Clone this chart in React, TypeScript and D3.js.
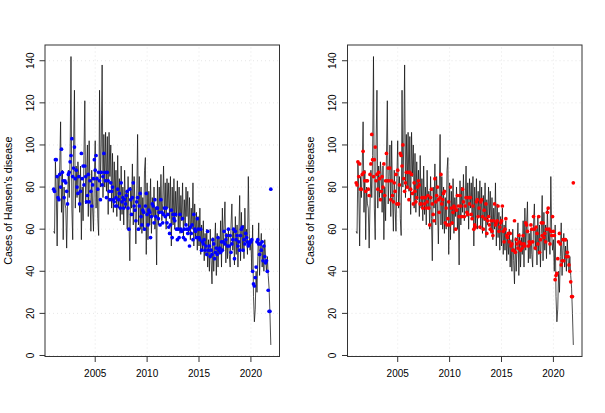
import * as d3 from 'd3';

// Monthly observed cases, Jan 2001 .. Dec 2021 (one row per year)
const observed: number[] = [
  59, 58, 92, 78, 52, 85, 75, 90, 111, 68, 88, 55,
  80, 72, 70, 51, 72, 88, 75, 95, 142, 70, 55, 100,
  126, 70, 90, 75, 92, 85, 68, 90, 55, 80, 64, 95,
  121, 72, 85, 100, 66, 102, 75, 59, 88, 70, 59, 84,
  102, 70, 85, 65, 57, 126, 80, 100, 138, 75, 105, 80,
  106, 78, 104, 67, 106, 85, 100, 70, 96, 68, 92, 74,
  88, 66, 95, 70, 84, 64, 90, 67, 80, 62, 88, 70,
  78, 60, 85, 65, 45, 80, 70, 91, 62, 85, 70, 53,
  75, 105, 62, 85, 60, 80, 58, 75, 60, 88, 94, 48,
  82, 55, 78, 62, 84, 58, 75, 66, 80, 60, 70, 43,
  83, 62, 80, 68, 86, 64, 72, 90, 66, 82, 60, 84,
  70, 82, 65, 85, 52, 80, 62, 84, 60, 78, 66, 83,
  60, 80, 58, 76, 64, 82, 56, 74, 62, 80, 66, 78,
  58, 75, 55, 70, 60, 82, 52, 72, 56, 68, 50, 66,
  52, 70, 48, 62, 50, 64, 45, 58, 48, 60, 42, 55,
  40, 60, 45, 34, 56, 40, 52, 63, 38, 58, 42, 56,
  48, 64, 42, 70, 50, 62, 73, 44, 58, 46, 60, 48,
  42, 62, 72, 50, 60, 43, 66, 48, 62, 42, 58, 76,
  45, 68, 50, 62, 46, 70, 54, 60, 48, 85, 58, 50,
  55, 40, 62, 28, 16, 22, 40, 30, 47, 63, 38, 50,
  58, 42, 52, 40, 55, 46, 40, 47, 38, 32, 20, 5,
];

// Fitted values, left panel (blue)
const fittedBlue: number[] = [
  79, 78, 93, 93, 85, 75, 74, 86, 80, 98, 87, 83,
  75, 83, 82, 78, 72, 86, 87, 92, 95, 103, 85, 89,
  99, 84, 88, 80, 77, 85, 72, 78, 96, 84, 90, 81,
  90, 85, 73, 76, 86, 73, 83, 78, 71, 81, 84, 93,
  88, 95, 84, 79, 87, 83, 74, 87, 81, 85, 96, 87,
  83, 75, 87, 83, 78, 74, 82, 78, 80, 74, 73, 71,
  75, 71, 79, 74, 77, 70, 82, 73, 75, 70, 74, 72,
  76, 78, 70, 60, 79, 74, 67, 75, 82, 71, 69, 64,
  73, 75, 60, 71, 77, 66, 62, 69, 68, 60, 71, 77,
  67, 62, 69, 68, 56, 66, 72, 71, 63, 74, 66, 70,
  70, 65, 68, 62, 74, 68, 63, 67, 70, 66, 70, 63,
  67, 61, 58, 62, 69, 56, 67, 65, 64, 67, 60, 55,
  60, 56, 67, 60, 59, 65, 56, 60, 55, 62, 60, 58,
  60, 52, 61, 58, 62, 55, 67, 60, 59, 56, 65, 60,
  56, 55, 60, 50, 54, 53, 55, 50, 52, 48, 59, 50,
  52, 47, 50, 48, 55, 53, 46, 49, 51, 48, 56, 50,
  51, 49, 54, 50, 54, 59, 53, 55, 57, 52, 60, 52,
  57, 49, 53, 55, 60, 46, 59, 55, 57, 52, 54, 50,
  57, 60, 61, 50, 55, 53, 58, 56, 54, 52, 53, 54,
  54, 55, 40, 34, 33, 37, 42, 54, 55, 53, 48, 53,
  50, 54, 45, 52, 47, 44, 45, 40, 31, 21, 21, 79,
];

// Fitted values, right panel (red)
const fittedRed: number[] = [
  82, 81, 92, 85, 91, 79, 79, 86, 97, 87, 83, 78,
  83, 83, 79, 76, 86, 91, 105, 93, 85, 93, 99, 83,
  86, 79, 87, 84, 74, 78, 85, 80, 91, 76, 83, 96,
  83, 89, 83, 89, 74, 83, 76, 73, 82, 78, 86, 72,
  88, 72, 81, 96, 95, 90, 100, 84, 78, 82, 87, 80,
  87, 74, 87, 79, 86, 77, 72, 82, 78, 73, 75, 80,
  83, 81, 72, 72, 75, 70, 75, 72, 75, 70, 73, 76,
  70, 62, 75, 79, 72, 67, 64, 84, 73, 76, 80, 74,
  68, 75, 86, 72, 74, 77, 78, 63, 70, 62, 65, 73,
  62, 80, 70, 63, 68, 71, 70, 60, 69, 76, 71, 66,
  76, 71, 66, 79, 73, 66, 71, 75, 68, 67, 75, 72,
  75, 67, 65, 71, 60, 62, 61, 73, 74, 66, 70, 61,
  73, 74, 66, 60, 69, 65, 72, 58, 64, 66, 62, 60,
  64, 59, 57, 64, 72, 62, 63, 64, 71, 59, 61, 63,
  64, 71, 59, 54, 60, 65, 57, 56, 58, 54, 58, 52,
  53, 50, 50, 64, 49, 55, 53, 51, 57, 54, 50, 53,
  51, 57, 53, 52, 63, 62, 59, 52, 54, 53, 62, 60,
  54, 66, 60, 51, 61, 58, 53, 66, 49, 55, 63, 57,
  63, 56, 58, 54, 60, 68, 70, 60, 53, 59, 57, 66,
  59, 57, 36, 38, 39, 46, 54, 58, 53, 43, 45, 55,
  45, 55, 55, 47, 49, 47, 43, 40, 35, 28, 28, 82,
];

const START_YEAR = 2001;
const xTicks = [2005, 2010, 2015, 2020];
const yTicks = [0, 20, 40, 60, 80, 100, 120, 140];
const yLabel = "Cases of Hansen's disease";

const W = 605;
const H = 413;
const PANEL_W = W / 2;
const margin = { top: 45, right: 23, bottom: 56.5, left: 45 };
const FONT = '"Liberation Sans", Arial, Helvetica, sans-serif';

const times = observed.map((_, i) => START_YEAR + i / 12);

function Panel({ offset, fitted, color }: { offset: number; fitted: number[]; color: string }) {
  const x0 = offset + margin.left;
  const x1 = offset + PANEL_W - margin.right;
  const y0 = H - margin.bottom;
  const y1 = margin.top;

  // R style 4% axis padding
  const tExt = d3.extent(times) as [number, number];
  const tPad = (tExt[1] - tExt[0]) * 0.04;
  const vExt = d3.extent(observed) as [number, number];
  const vPad = (vExt[1] - vExt[0]) * 0.04;

  const x = d3.scaleLinear().domain([tExt[0] - tPad, tExt[1] + tPad]).range([x0, x1]);
  const y = d3.scaleLinear().domain([vExt[0] - vPad, vExt[1] + vPad]).range([y0, y1]);

  const line = d3.line<number>()
    .x((_, i) => x(times[i]))
    .y(d => y(d));

  const midY = (y0 + y1) / 2;

  return (
    <g>
      {/* dotted grid */}
      {yTicks.map(t => (
        <line key={`gy${t}`} x1={x0} x2={x1} y1={y(t)} y2={y(t)}
          stroke="#dcdcdc" strokeWidth={0.7} strokeDasharray="1 3" />
      ))}
      {xTicks.map(t => (
        <line key={`gx${t}`} x1={x(t)} x2={x(t)} y1={y0} y2={y1}
          stroke="#dcdcdc" strokeWidth={0.7} strokeDasharray="1 3" />
      ))}

      <path d={line(observed) || ''} fill="none" stroke="#111" strokeWidth={0.75} />

      {fitted.map((v, i) => (
        <circle key={i} cx={x(times[i])} cy={y(v)} r={1.85} fill={color} />
      ))}

      <rect x={x0} y={y1} width={x1 - x0} height={y0 - y1} fill="none" stroke="#333" strokeWidth={1} />

      {/* x axis */}
      {xTicks.map(t => (
        <g key={`xt${t}`}>
          <line x1={x(t)} x2={x(t)} y1={y0} y2={y0 + 5.5} stroke="#333" />
          <text x={x(t)} y={y0 + 20} textAnchor="middle" fontSize={10} fontFamily={FONT} fill="#000">{t}</text>
        </g>
      ))}

      {/* y axis */}
      {yTicks.map(t => (
        <g key={`yt${t}`}>
          <line x1={x0} x2={x0 - 5.5} y1={y(t)} y2={y(t)} stroke="#333" />
          <text transform={`translate(${x0 - 11.5},${y(t)}) rotate(-90)`} textAnchor="middle"
            fontSize={10} fontFamily={FONT} fill="#000">{t}</text>
        </g>
      ))}

      <text transform={`translate(${offset + 11.5},${midY}) rotate(-90)`} textAnchor="middle"
        fontSize={10.6} fontFamily={FONT} fill="#000">{yLabel}</text>
    </g>
  );
}

export default function App() {
  return (
    <svg width={W} height={H} style={{ position: 'absolute', left: 0, top: 0, background: '#fff' }}>
      <rect width={W} height={H} fill="#fff" />
      <Panel offset={0} fitted={fittedBlue} color="#0000ff" />
      <Panel offset={PANEL_W} fitted={fittedRed} color="#ff0000" />
    </svg>
  );
}
